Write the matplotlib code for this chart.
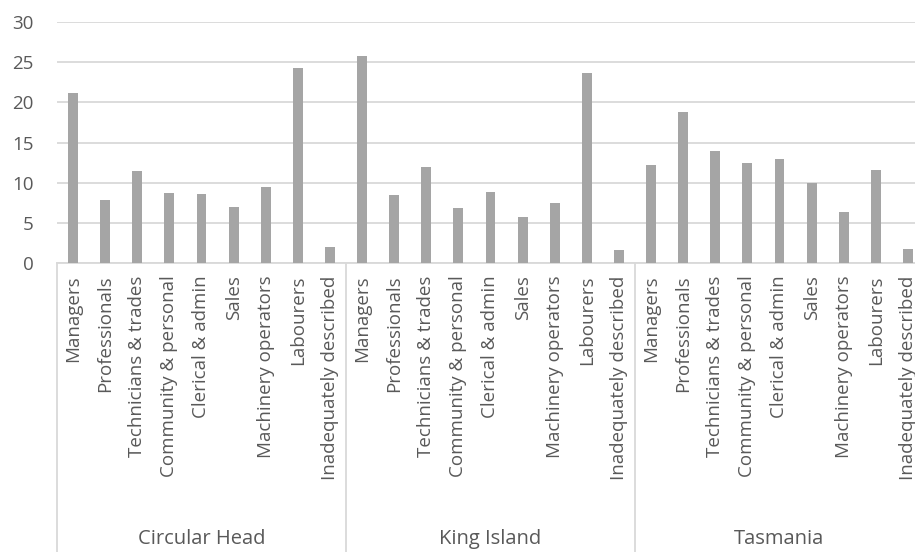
import matplotlib
matplotlib.use("Agg")
import matplotlib.pyplot as plt
import matplotlib.transforms as mtransforms

regions = ["Circular Head", "King Island", "Tasmania"]
occupations = [
    "Managers", "Professionals", "Technicians & trades", "Community & personal",
    "Clerical & admin", "Sales", "Machinery operators", "Labourers",
    "Inadequately described",
]
circular_head = [21.1, 7.8, 11.4, 8.7, 8.6, 7.0, 9.5, 24.3, 2.0]
king_island = [25.8, 8.5, 12.0, 6.8, 8.8, 5.7, 7.5, 23.7, 1.6]
tasmania = [12.2, 18.8, 13.9, 12.4, 13.0, 9.9, 6.4, 11.6, 1.7]
y_ticks = [0, 5, 10, 15, 20, 25, 30]

BAR = "#A5A5A5"
GRID = "#D9D9D9"
TEXT = "#595959"
FONT = ["Open Sans", "DejaVu Sans"]
FS = 13.5
FS_GROUP = 14.5

values = circular_head + king_island + tasmania
labels = occupations * len(regions)
x = list(range(len(values)))

W, H = 915, 552
fig = plt.figure(figsize=(W / 100, H / 100), dpi=100)
left, right, top, bottom = 57, 924, 22, 263
ax = fig.add_axes([left / W, 1 - bottom / H, (right - left) / W, (bottom - top) / H])

ax.bar(x, values, width=0.31, color=BAR, zorder=3)
ax.set_xlim(-0.5, len(values) - 0.5)
ax.set_ylim(0, 30)
ax.set_yticks(y_ticks)
ax.yaxis.grid(True, color=GRID, linewidth=1.3, zorder=0)
ax.set_axisbelow(True)
for s in ["left", "right", "top"]:
    ax.spines[s].set_visible(False)
ax.spines["bottom"].set_color(GRID)
ax.spines["bottom"].set_linewidth(1.3)
ax.tick_params(axis="y", length=0, pad=17, labelcolor=TEXT, labelsize=FS)
ax.tick_params(axis="x", length=0, pad=9, labelcolor=TEXT, labelsize=FS)
ax.set_xticks(x)
ax.set_xticklabels(labels, rotation=90, va="top", ha="center")
for lab in ax.get_xticklabels() + ax.get_yticklabels():
    lab.set_family(FONT)

# multi-level category axis: group separators and group names
trans = mtransforms.blended_transform_factory(ax.transData, ax.transAxes)
n = len(occupations)
axis_h = bottom - top
for g in range(len(regions) + 1):
    xs = g * n - 0.5
    ax.plot([xs, xs], [0, -(H - bottom + 5) / axis_h], transform=trans,
            color=GRID, linewidth=1.3, clip_on=False)
for g, name in enumerate(regions):
    ax.text(g * n + (n - 1) / 2, -(539 - bottom) / axis_h, name, transform=trans,
            ha="center", va="center", color=TEXT, fontsize=FS_GROUP, family=FONT)

fig.savefig("out.png", dpi=100)
